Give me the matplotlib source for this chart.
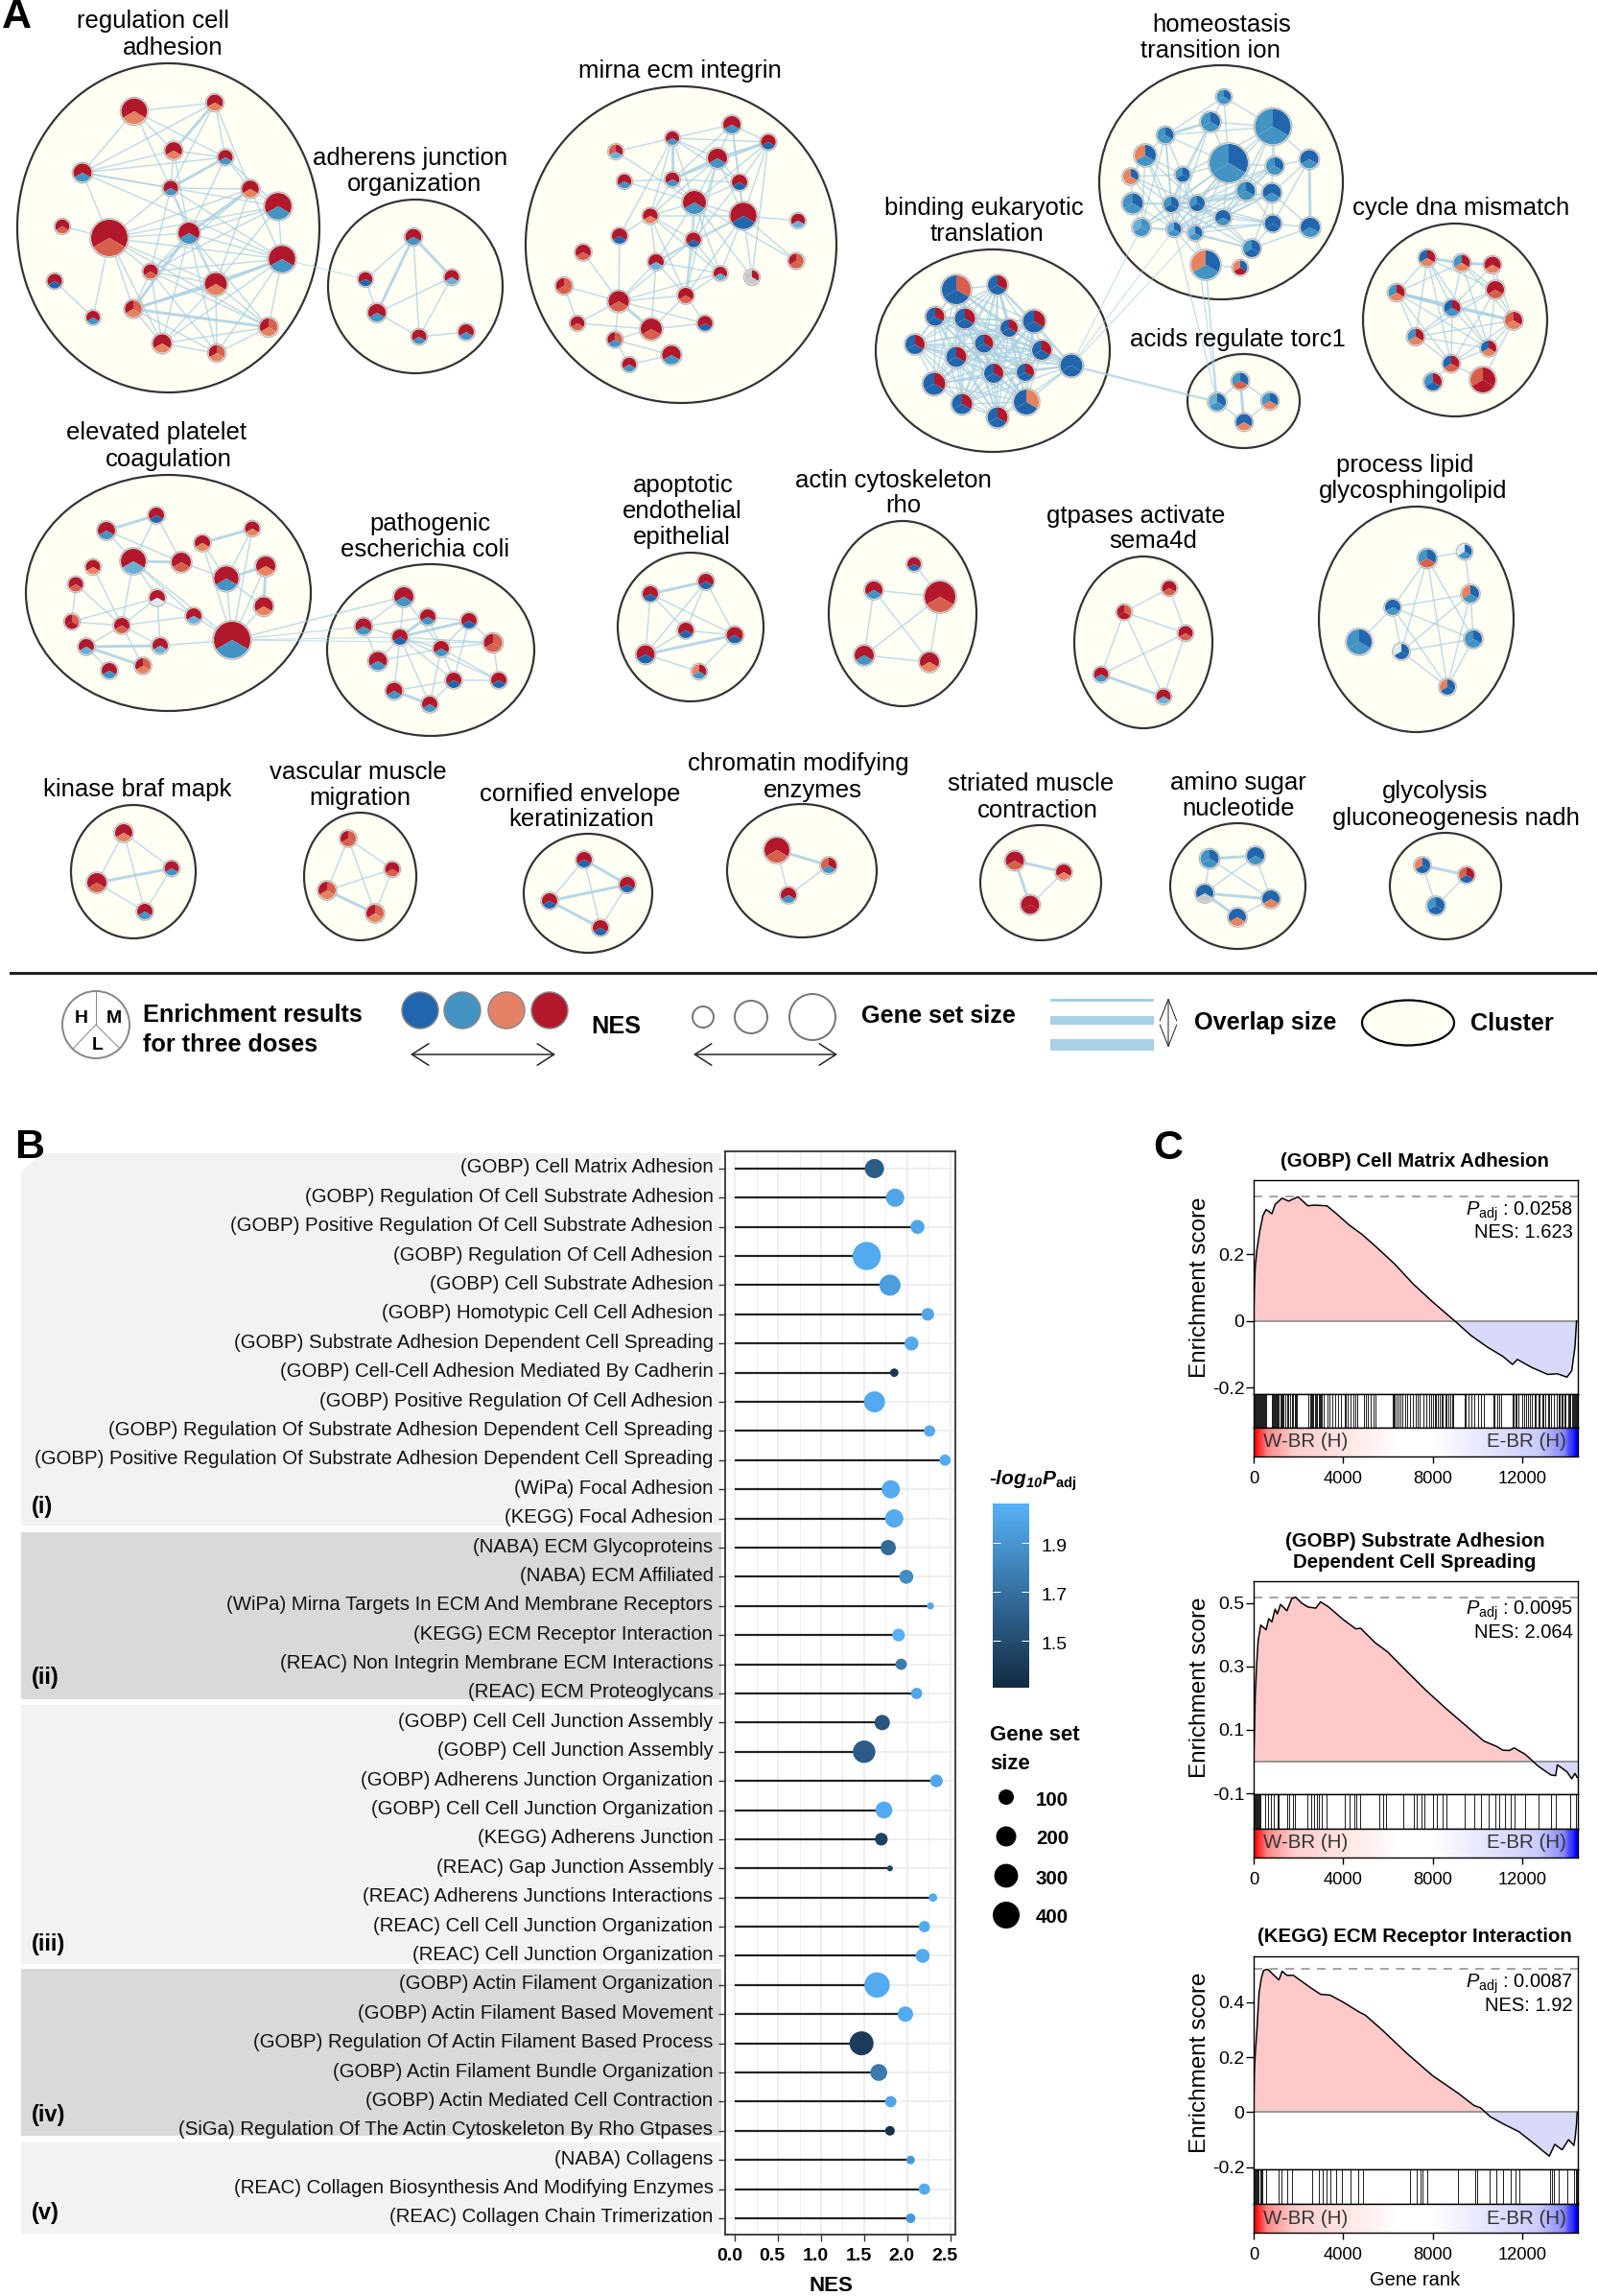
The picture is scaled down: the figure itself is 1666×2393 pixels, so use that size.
import numpy as np
import matplotlib
matplotlib.use('Agg')
import matplotlib.pyplot as plt
from matplotlib.patches import Ellipse, Circle, Wedge, Rectangle
from matplotlib.collections import LineCollection
from matplotlib.colors import LinearSegmentedColormap, Normalize
from matplotlib.transforms import ScaledTranslation
from itertools import combinations

plt.rcParams['font.family'] = ['Liberation Sans', 'DejaVu Sans']
plt.rcParams['mathtext.fontset'] = 'custom'
plt.rcParams['mathtext.rm'] = 'Liberation Sans'
plt.rcParams['mathtext.it'] = 'Liberation Sans:italic'
plt.rcParams['mathtext.bf'] = 'Liberation Sans:bold'
plt.rcParams['mathtext.bfit'] = 'Liberation Sans:italic:bold'

W, H = 1666, 2393
PX = 0.72  # points per pixel at dpi 100

# ---------- panel A: network clusters, node = (x, y, radius), colours = H M L ----------
pie_colors = {'R': '#B2182B', 'r': '#D6604D', 's': '#E5825F', 'b': '#4393C3', 'B': '#2166AC',
              'c': '#6BAED6', 'g': '#C8C8C8', 'w': '#DCE9F3'}

nodes_regulation = [(140,116,13.4),(224,107,8.4),(181,157,8.8),(235,164,7.6),(86,180,9.5),(178,196,7.6),
                    (261,197,8.8),(290,215,13.8),(65,236,7.3),(114,248,19),(197,243,11),(294,270,13.8),
                    (157,283,7.6),(57,293,7.6),(225,296,11.5),(139,322,8.8),(97,331,7),(280,341,9.2),
                    (169,358,9.6),(226,368,8.4)]
colors_regulation = 'RRs RRs RRs RRb RRb RRb RRs RRb RRr RRr RRb RRb RRr RRB RRs Rrs RRb Rrs RRs Rrs'.split()
edges_regulation = [(0,1),(0,2),(0,3),(0,5),(0,4),(1,3),(1,5),(1,4),(1,6),(2,3),(2,4),(2,5),(2,10),(3,4),(3,6),
                    (3,10),(3,7),(4,5),(4,9),(4,7),(4,11),(5,6),(5,9),(5,10),(5,11),(5,12),(5,14),(6,7),(6,9),
                    (6,11),(6,12),(6,14),(7,9),(7,10),(7,11),(7,12),(7,14),(8,9),(9,10),(9,11),(9,12),(9,14),
                    (9,15),(9,16),(9,17),(9,18),(10,11),(10,12),(10,14),(10,18),(10,19),(10,17),(11,12),(11,15),
                    (11,18),(11,19),(11,17),(12,14),(12,15),(12,18),(12,17),(12,19),(13,16),(14,18),(14,19),
                    (14,17),(15,18),(15,19),(17,18),(17,19),(18,19)]
thick_regulation = [(1,2),(3,5),(6,10),(10,15),(11,14),(14,15),(15,17)]

nodes_adherens = [(431,247,8.4),(381,291,7.3),(471,289,7.6),(393,326,9.2),(437,351,7.6),(486,346,8)]
colors_adherens = 'RRb RRB RRc RRb RRb RRb'.split()
edges_adherens = [(0,1),(0,4),(1,3),(2,3),(2,4),(3,4),(4,5)]
thick_adherens = [(0,3),(0,2)]

nodes_mirna = [(763,130,9),(701,144,7),(801,148,7.7),(642,158,7.3),(748,165,10),(651,189,7.3),(701,187,7.3),
               (771,190,8),(724,211,12),(775,225,13.7),(678,225,7.7),(832,230,7.3),(646,246,8),(723,250,7.7),
               (608,263,8),(830,272,7.7),(684,273,8),(751,285,7),(784,289,7.3),(588,298,8.3),(715,308,8),
               (645,314,10.7),(602,337,7.3),(735,337,7.7),(679,343,11),(641,354,7.7),(700,370,9.7),(656,380,7.3)]
colors_mirna = ('RRb RRb RRB rRc RRb RRb RRb RRB RRb RRB RRs RRc RRB RRB RRr Rrr RRc RRc gRg Rrr RRr RRr RRr '
                'RRB RRr Rrb RRb RRb').split()
edges_mirna = [(3,1),(0,1),(0,2),(1,2),(1,4),(1,7),(1,8),(1,10),(1,12),(2,6),(2,8),(2,7),(2,9),(0,4),(0,6),(0,7),
               (0,9),(4,8),(4,9),(4,7),(4,10),(4,13),(6,8),(6,5),(6,10),(6,7),(7,8),(7,9),(7,13),(8,5),(8,9),(8,10),
               (8,13),(8,16),(8,17),(8,20),(9,10),(9,11),(9,13),(9,15),(9,16),(9,17),(9,18),(9,20),(2,18),(8,15),
               (8,18),(13,16),(13,17),(13,20),(16,10),(10,20),(10,13),(10,17),(16,17),(16,20),(16,21),(17,20),
               (12,21),(12,10),(3,8),(14,21),(19,21),(19,22),(21,20),(21,22),(21,23),(21,25),(21,17),(22,24),
               (24,20),(24,23),(24,16),(24,25),(25,26),(26,27),(25,27),(20,23),(13,21),(4,20)]
thick_mirna = [(1,6),(2,4),(4,6),(21,24)]

nodes_homeostasis = [(1276,101,7.5),(1262,127,10),(1327,132,18.5),(1215,141,8.5),(1194,162,11),(1281,170,20),
                     (1365,166,9.5),(1329,173,9),(1233,182,7.5),(1179,184,8),(1299,199,9.5),(1326,201,9.5),
                     (1181,212,10.5),(1221,213,8),(1248,212,8),(1275,227,8),(1327,233,8.5),(1366,237,10),
                     (1190,237,9),(1224,239,7.5),(1246,243,7.5),(1305,259,9),(1257,276,15),(1293,279,7.5)]
colors_homeostasis = 'bBb bBb bBb bBb sBb bBb BBb bBb bBB sBs bBb BBb bBb bBB bBB BBb BBB BBb cbb cBb cBb bBB sBb sBR'.split()
edges_homeostasis = [(0,1),(0,2),(0,3),(0,5),(1,2),(1,5),(1,8),(1,13),(1,19),(2,5),(2,6),(2,7),(2,10),(2,11),(2,3),
                     (2,8),(2,14),(2,15),(3,4),(3,8),(3,13),(3,18),(3,19),(3,5),(4,8),(4,13),(4,14),(4,18),(4,19),
                     (4,9),(5,7),(5,8),(5,10),(5,11),(5,13),(5,14),(5,15),(5,18),(5,19),(5,20),(5,16),(6,7),(6,11),
                     (6,16),(7,10),(7,13),(7,14),(7,15),(7,19),(8,9),(8,13),(8,14),(8,19),(8,20),(9,12),(9,13),
                     (9,14),(9,19),(10,13),(10,14),(10,15),(10,19),(10,20),(11,13),(11,14),(11,16),(11,15),(11,19),
                     (11,20),(11,21),(11,17),(12,13),(12,14),(12,18),(12,19),(13,14),(13,15),(13,18),(13,19),(13,20),
                     (13,21),(13,16),(14,15),(14,18),(14,19),(14,20),(14,16),(14,21),(15,19),(15,20),(15,16),(15,21),
                     (16,17),(16,19),(16,20),(16,21),(17,21),(18,19),(18,20),(19,20),(19,21),(19,22),(20,21),(20,22),
                     (22,23)]
thick_homeostasis = [(1,3),(6,17)]

nodes_binding = [(997,302,15),(1040,297,10),(975,330,9.5),(1006,332,10.5),(1078,335,11.5),(1052,342,9),(954,359,10),
                 (1026,358,9.5),(1086,365,10),(997,372,10.5),(1117,381,11.5),(1036,389,10),(1069,388,9),(974,400,11.5),
                 (1003,421,10.5),(1070,419,13),(1040,435,10.5)]
colors_binding = 'BrB BRB BRB BRB BRB BRB BRB BRB BRB BRB BBB BRB BRB BRB BRB BsB BRB'.split()
edges_binding = list(combinations(range(17), 2))
thick_binding = []

nodes_acids = [(1293,397,8.5),(1269,419,9),(1324,418,8.5),(1297,440,8.5)]
colors_acids = 'bBr cBb bBs BBs'.split()
edges_acids = [(0,1),(0,2),(1,3),(2,3)]
thick_acids = [(0,3)]

nodes_cycle = [(1488,269,8.5),(1524,274,8.5),(1556,276,8.5),(1559,302,9),(1456,305,8.5),(1514,321,8.5),(1578,334,9),
               (1476,351,8.5),(1552,363,8),(1513,379,8.5),(1494,398,9),(1546,396,13)]
colors_cycle = 'BRs bRs RRs RRr bRs BRb rRs bRs BRs BRr bRB rRR'.split()
edges_cycle = [(0,3),(0,4),(0,5),(0,7),(0,8),(0,9),(1,3),(1,4),(1,5),(1,8),(1,6),(2,3),(2,5),(2,6),(3,5),(3,6),(3,7),
               (3,8),(3,9),(4,7),(4,8),(4,9),(5,6),(5,7),(5,8),(5,9),(6,7),(6,8),(6,9),(6,11),(7,8),(7,9),(8,9),
               (9,10),(9,11)]
thick_cycle = [(0,1),(1,2),(4,5),(4,6)]

nodes_platelet = [(163,537,8),(111,553,9),(263,551,7.5),(211,566,8),(139,585,13),(189,586,10),(97,591,7.5),(277,590,10),
                  (236,603,12.7),(79,609,7.5),(164,623,8),(275,632,9.5),(75,648,7.5),(202,642,8),(127,652,8),
                  (242,667,19),(90,674,8),(167,673,8),(149,694,8),(114,699,8)]
colors_platelet = 'RRB RRb RRs RRs RRc RRr RRs RRs RRb RRr RRw RRs RrR RRc RRr RRb RRc RRc Rrs RRb'.split()
edges_platelet = [(0,4),(0,5),(1,4),(1,5),(2,8),(2,15),(3,8),(3,15),(4,10),(4,13),(4,14),(4,15),(5,8),(6,14),(7,15),
                  (8,15),(8,11),(11,15),(9,12),(9,14),(10,13),(10,14),(10,17),(10,12),(12,14),(13,15),(14,16),(14,17),
                  (14,18),(15,17),(13,14),(16,19)]
thick_platelet = [(0,1),(2,3),(4,5),(7,8),(7,11),(16,17),(16,18)]

nodes_pathogenic = [(421,622,10),(379,653,8.5),(446,643,8),(489,647,8),(417,664,8),(514,670,9.5),(460,676,8),(394,689,9.5),
                    (473,709,8),(520,709,8),(411,720,8.5),(448,734,8)]
colors_pathogenic = 'RRb RRb RRb RRB RRB Rrr RRb RRb RRB RRB RRb RRb'.split()
edges_pathogenic = [(0,1),(0,4),(0,6),(1,2),(1,4),(1,7),(2,3),(2,6),(3,5),(3,6),(3,8),(4,5),(4,6),(4,7),(4,8),(4,9),(4,10),
                    (4,11),(5,6),(5,9),(6,8),(6,9),(6,11),(7,6),(8,9),(8,10),(8,11)]
thick_pathogenic = [(2,4),(3,4),(10,11)]

nodes_apoptotic = [(736,606,8),(678,619,8),(715,657,8),(766,662,8.5),(673,682,9.5),(729,700,7.5)]
colors_apoptotic = 'RRB RRB RRB RRB RRB sRb'.split()
edges_apoptotic = [(0,4),(0,2),(0,3),(1,4),(1,2),(1,3),(2,3),(2,4),(4,5),(3,5)]
thick_apoptotic = [(0,1),(3,4)]

nodes_actin = [(953,588,7),(911,615,9),(980,622,16),(901,683,10),(969,690,10)]
colors_actin = 'RRB RRb RRr RRb RRs'.split()
edges_actin = [(0,2),(1,3),(2,3),(2,4),(3,4),(1,2),(1,4)]
thick_actin = []

nodes_gtpases = [(1219,613,7.5),(1172,638,7.5),(1236,660,7.5),(1148,703,7.5),(1213,726,7.5)]
colors_gtpases = 'RRr RrR RRr RRb RRc'.split()
edges_gtpases = [(0,1),(0,2),(1,2),(1,3),(1,4),(2,3),(2,4)]
thick_gtpases = [(3,4)]

nodes_lipid = [(1488,582,9.5),(1527,575,7.5),(1533,619,9),(1452,633,8),(1536,666,9),(1417,669,13),(1461,679,8),(1509,716,8)]
colors_lipid = 'bBr wBb sBb BBb bBb bBb wBB sBB'.split()
edges_lipid = [(0,3),(0,6),(0,7),(0,4),(1,2),(2,3),(2,6),(2,7),(2,4),(3,5),(3,4),(3,7),(4,6),(6,7),(0,1),(3,6),(4,7)]
thick_lipid = []

nodes_kinase = [(129,868,9),(179,905,7.5),(101,920,10),(151,950,8)]
colors_kinase = 'RRs RRb RRr RRb'.split()
edges_kinase = [(0,1),(0,2),(0,3),(1,3),(2,3)]
thick_kinase = [(1,2)]

nodes_vascular = [(363,874,8),(409,906,7.5),(341,928,9),(391,952,9)]
colors_vascular = 'Rrr RRr Rrs Rrs'.split()
edges_vascular = [(0,1),(0,2),(0,3),(1,2),(1,3)]
thick_vascular = [(2,3)]

nodes_cornified = [(609,896,8),(654,922,8),(573,939,8),(626,967,8)]
colors_cornified = 'RRB RRB RRB RRB'.split()
edges_cornified = [(0,2),(0,3),(1,3)]
thick_cornified = [(0,1),(1,2),(2,3)]

nodes_chromatin = [(810,886,13),(864,902,8),(822,933,8)]
colors_chromatin = 'RRr rRb RRb'.split()
edges_chromatin = [(0,2),(1,2)]
thick_chromatin = [(0,1)]

nodes_striated = [(1058,897,9.5),(1109,909,8),(1074,943,9.5)]
colors_striated = 'RRr RRs RRR'.split()
edges_striated = [(1,2)]
thick_striated = [(0,1),(0,2)]

nodes_amino = [(1261,895,9.5),(1309,892,9),(1256,931,9),(1325,937,9),(1290,956,9)]
colors_amino = 'bBb BBb BBg BBs BBs'.split()
edges_amino = [(0,2),(0,3),(1,2),(1,3),(3,4)]
thick_amino = [(0,1),(2,3),(2,4)]

nodes_glyco = [(1483,902,8),(1529,912,8),(1497,944,9)]
colors_glyco = 'sBB rRB bBB'.split()
edges_glyco = [(0,2),(1,2)]
thick_glyco = [(0,1)]

# bounding boxes of the cluster outlines: left, right, top, bottom
clusters = [
    (nodes_regulation, colors_regulation, edges_regulation, thick_regulation, (18,333,66,409)),
    (nodes_adherens, colors_adherens, edges_adherens, thick_adherens, (342,524,208,389)),
    (nodes_mirna, colors_mirna, edges_mirna, thick_mirna, (548,872,90,420)),
    (nodes_homeostasis, colors_homeostasis, edges_homeostasis, thick_homeostasis, (1146,1400,68,312)),
    (nodes_binding, colors_binding, edges_binding, thick_binding, (913,1157,260,471)),
    (nodes_acids, colors_acids, edges_acids, thick_acids, (1238,1355,369,467)),
    (nodes_cycle, colors_cycle, edges_cycle, thick_cycle, (1421,1613,233,434)),
    (nodes_platelet, colors_platelet, edges_platelet, thick_platelet, (27,324,495,741)),
    (nodes_pathogenic, colors_pathogenic, edges_pathogenic, thick_pathogenic, (341,557,588,767)),
    (nodes_apoptotic, colors_apoptotic, edges_apoptotic, thick_apoptotic, (644,796,576,731)),
    (nodes_actin, colors_actin, edges_actin, thick_actin, (864,1018,543,736)),
    (nodes_gtpases, colors_gtpases, edges_gtpases, thick_gtpases, (1120,1264,580,759)),
    (nodes_lipid, colors_lipid, edges_lipid, thick_lipid, (1375,1578,528,763)),
    (nodes_kinase, colors_kinase, edges_kinase, thick_kinase, (74,204,839,978)),
    (nodes_vascular, colors_vascular, edges_vascular, thick_vascular, (317,434,847,980)),
    (nodes_cornified, colors_cornified, edges_cornified, thick_cornified, (546,680,869,993)),
    (nodes_chromatin, colors_chromatin, edges_chromatin, thick_chromatin, (758,914,838,977)),
    (nodes_striated, colors_striated, edges_striated, thick_striated, (1022,1148,860,980)),
    (nodes_amino, colors_amino, edges_amino, thick_amino, (1220,1361,858,989)),
    (nodes_glyco, colors_glyco, edges_glyco, thick_glyco, (1449,1565,868,979)),
]

# links between clusters
cross_edges = [
    (nodes_regulation[11], nodes_adherens[1], 1.0),
    (nodes_platelet[15], nodes_pathogenic[0], 1.6),
    (nodes_platelet[15], nodes_pathogenic[1], 1.2),
    (nodes_platelet[15], nodes_pathogenic[5], 1.0),
    (nodes_platelet[15], nodes_pathogenic[4], 1.0),
    (nodes_binding[10], nodes_acids[1], 2.4),
    (nodes_binding[10], nodes_homeostasis[18], 1.0),
    (nodes_binding[10], nodes_homeostasis[19], 1.0),
    (nodes_binding[10], nodes_homeostasis[20], 1.0),
    (nodes_homeostasis[22], nodes_acids[1], 1.6),
    (nodes_homeostasis[19], nodes_acids[1], 1.2),
    (nodes_homeostasis[20], nodes_acids[1], 1.2),
]

cluster_labels = [
    ('regulation cell',160,22),('adhesion',180,50),('adherens junction',428,165),('organization',432,192),
    ('mirna ecm integrin',709,74),('homeostasis',1274,26),('transition ion',1262,53),
    ('binding eukaryotic',1026,217),('translation',1029,244),('cycle dna mismatch',1523,217),
    ('acids regulate torc1',1290,354),('elevated platelet',163,451),('coagulation',176,479),
    ('pathogenic',448,546),('escherichia coli',443,573),('apoptotic',712,506),('endothelial',711,533),
    ('epithelial',711,560),('actin cytoskeleton',931,501),('rho',942,527),('gtpases activate',1184,538),
    ('sema4d',1202,564),('process lipid',1465,485),('glycosphingolipid',1473,512),('kinase braf mapk',143,823),
    ('vascular muscle',373,805),('migration',375,832),('cornified envelope',605,828),('keratinization',606,854),
    ('chromatin modifying',832,796),('enzymes',847,824),('striated muscle',1075,817),('contraction',1082,845),
    ('amino sugar',1291,816),('nucleotide',1291,843),('glycolysis',1496,825),('gluconeogenesis nadh',1518,853),
]

# ---------- panel B data ----------
terms = ['(GOBP) Cell Matrix Adhesion', '(GOBP) Regulation Of Cell Substrate Adhesion',
         '(GOBP) Positive Regulation Of Cell Substrate Adhesion', '(GOBP) Regulation Of Cell Adhesion',
         '(GOBP) Cell Substrate Adhesion', '(GOBP) Homotypic Cell Cell Adhesion',
         '(GOBP) Substrate Adhesion Dependent Cell Spreading', '(GOBP) Cell-Cell Adhesion Mediated By Cadherin',
         '(GOBP) Positive Regulation Of Cell Adhesion', '(GOBP) Regulation Of Substrate Adhesion Dependent Cell Spreading',
         '(GOBP) Positive Regulation Of Substrate Adhesion Dependent Cell Spreading', '(WiPa) Focal Adhesion',
         '(KEGG) Focal Adhesion', '(NABA) ECM Glycoproteins', '(NABA) ECM Affiliated',
         '(WiPa) Mirna Targets In ECM And Membrane Receptors', '(KEGG) ECM Receptor Interaction',
         '(REAC) Non Integrin Membrane ECM Interactions', '(REAC) ECM Proteoglycans',
         '(GOBP) Cell Cell Junction Assembly', '(GOBP) Cell Junction Assembly', '(GOBP) Adherens Junction Organization',
         '(GOBP) Cell Cell Junction Organization', '(KEGG) Adherens Junction', '(REAC) Gap Junction Assembly',
         '(REAC) Adherens Junctions Interactions', '(REAC) Cell Cell Junction Organization',
         '(REAC) Cell Junction Organization', '(GOBP) Actin Filament Organization',
         '(GOBP) Actin Filament Based Movement', '(GOBP) Regulation Of Actin Filament Based Process',
         '(GOBP) Actin Filament Bundle Organization', '(GOBP) Actin Mediated Cell Contraction',
         '(SiGa) Regulation Of The Actin Cytoskeleton By Rho Gtpases', '(NABA) Collagens',
         '(REAC) Collagen Biosynthesis And Modifying Enzymes', '(REAC) Collagen Chain Trimerization']
nes = [1.62,1.86,2.12,1.53,1.80,2.24,2.05,1.85,1.62,2.26,2.44,1.81,1.85,1.78,1.99,2.27,1.90,1.93,2.11,
       1.71,1.50,2.34,1.73,1.70,1.80,2.30,2.20,2.18,1.65,1.98,1.47,1.67,1.81,1.80,2.04,2.20,2.04]
gene_size = [178,156,78,448,225,59,78,16,225,42,42,156,156,100,78,8,59,42,42,
             100,261,59,128,59,3,16,42,78,348,100,306,128,42,25,16,42,25]
log_padj = [1.59,2.0,2.0,2.02,1.95,2.0,2.02,1.38,2.02,2.02,2.02,2.02,2.02,1.66,1.85,2.0,2.06,1.75,2.0,
            1.55,1.58,2.0,2.02,1.43,1.43,2.02,2.02,2.02,2.02,2.02,1.40,1.75,2.0,1.33,1.92,2.02,1.92]
size_legend = [100, 200, 300, 400]
nes_ticks = [0.0, 0.5, 1.0, 1.5, 2.0, 2.5]

# ---------- panel C data ----------
titles_c = ['(GOBP) Cell Matrix Adhesion', '(GOBP) Substrate Adhesion\nDependent Cell Spreading',
            '(KEGG) ECM Receptor Interaction']
padj_c = ['0.0258', '0.0095', '0.0087']
nes_c = ['1.623', '2.064', '1.92']

rank1 = [0,29,72,143,272,415,558,816,959,1274,1560,1989,2418,2704,3277,3706,4278,4850,5423,6282,7140,7998,9000,
         9715,10431,11146,11576,11791,12435,13150,13580,14009,14224,14367,14438]
es1 = [0,.096,.163,.212,.269,.317,.335,.322,.35,.369,.36,.373,.346,.348,.346,.322,.288,.26,.226,.173,.111,.058,0,
       -.043,-.077,-.106,-.13,-.115,-.139,-.16,-.158,-.168,-.149,-.077,0]
rug1 = [20,50,80,110,140,170,200,230,270,300,340,380,420,470,520,570,800,850,900,950,990,1030,1080,1130,1190,1250,1290,
        1340,1400,1480,1530,1640,1700,1760,1830,1880,1950,2460,2510,2560,2620,2680,2730,2780,2840,2900,2960,3010,3060,
        3110,3290,3400,3520,3630,3780,3900,4060,4130,4200,4330,4450,4540,4630,4920,5010,5090,5250,5370,5450,6200,6260,
        6320,6400,6480,6560,6660,6760,6860,6990,7140,7250,7340,7440,7590,7700,7860,7950,8020,8100,8170,8240,8320,8400,
        8470,8560,8640,8700,8780,8860,8920,9420,9500,9600,9720,9860,10020,10180,10300,10720,10780,10880,11000,11080,
        11580,11640,11700,11760,11820,12020,12100,12180,12270,12360,12450,12560,12630,12720,12800,12890,12970,13060,
        13150,13230,13300,13420,13560,13640,13700,13760,13830,13890,13960,14050,14110,14170,14230,14280,14330,14380,
        14420,14460]

rank2 = [0,29,72,129,200,315,558,672,816,959,1059,1202,1488,1703,1875,2132,2418,2776,2991,3349,3992,4564,4779,5423,5995,
         6853,7712,8570,9429,10288,10860,11146,11432,11647,12148,12720,13293,13507,13579,14009,14224,14367,14467]
es2 = [0,.078,.209,.299,.38,.43,.415,.45,.44,.48,.465,.495,.475,.513,.518,.5,.487,.483,.503,.487,.448,.418,.42,.375,.345,
       .284,.224,.169,.117,.065,.048,.036,.035,.043,.023,-.014,-.042,-.044,-.01,-.032,-.054,-.037,-.05]
rug2 = [10,30,50,70,90,110,140,170,200,240,280,320,530,630,770,915,1060,1130,1490,1590,1775,1845,2420,2560,2700,2820,2920,
        3060,3250,4060,4280,4490,4590,4740,5640,5780,5925,6710,7170,7310,7500,7640,8030,8210,8430,8640,9430,9860,10150,
        10500,10790,11000,11220,11505,11650,12150,12720,13290,13510,14150,14410]

rank3 = [0,29,72,143,243,343,443,629,1130,1273,1488,1774,2561,2991,3420,3992,4707,4994,5709,6853,7998,9143,9858,10145,
         10574,11146,11862,12577,13221,13464,13793,14080,14323,14381,14438,14467]
es3 = [0,.144,.214,.295,.435,.487,.516,.52,.481,.513,.498,.498,.452,.429,.426,.401,.365,.353,.302,.214,.133,.069,.024,
       .016,-.016,-.042,-.071,-.117,-.16,-.117,-.137,-.1,-.121,-.088,-.042,0]
rug3 = [15,40,70,100,140,180,230,290,340,390,560,1130,1245,1490,1730,2600,2920,3100,3250,3450,3710,3960,4350,4680,4880,
        7000,7310,7455,7570,7780,9140,9890,10000,10550,10830,11150,11480,11720,11890,13270,13320,13410,13650,14010,14320,
        14410,14450]

ranks_c = [rank1, rank2, rank3]
es_c = [es1, es2, es3]
rugs_c = [rug1, rug2, rug3]
peak_c = [0.374, 0.518, 0.52]
yticks_c = [[-0.2, 0, 0.2], [-0.1, 0.1, 0.3, 0.5], [-0.2, 0, 0.2, 0.4]]
ylabs_c = [['-0.2', '0', '0.2'], ['-0.1', '0.1', '0.3', '0.5'], ['-0.2', '0', '0.2', '0.4']]
ylims_c = [(-0.219, 0.423), (-0.1025, 0.568), (-0.208, 0.567)]
rank_ticks = [0, 4000, 8000, 12000]


def px_axes(x0, y0, x1, y1):
    return fig.add_axes([x0 / W, 1 - y1 / H, (x1 - x0) / W, (y1 - y0) / H])


def marker_area(size):
    return (2 * (2 + 0.6 * np.sqrt(size)) * PX) ** 2


fig = plt.figure(figsize=(W / 100, H / 100), dpi=100)
ax = fig.add_axes([0, 0, 1, 1], zorder=0)
ax.set_xlim(0, W)
ax.set_ylim(H, 0)
ax.axis('off')

# ---------- panel A ----------
for nodes, cols, edges, thick, box in clusters:
    ax.add_patch(Ellipse(((box[0] + box[1]) / 2, (box[2] + box[3]) / 2), box[1] - box[0], box[3] - box[2],
                         fc='#FFFFF4', ec='#333333', lw=2.2 * PX, zorder=1))
for nodes, cols, edges, thick, box in clusters:
    segs = [(nodes[a][:2], nodes[b][:2]) for a, b in edges]
    ax.add_collection(LineCollection(segs, colors='#A6CEE3', linewidths=1.5 * PX, alpha=0.7, zorder=2))
    segs = [(nodes[a][:2], nodes[b][:2]) for a, b in thick]
    ax.add_collection(LineCollection(segs, colors='#A6CEE3', linewidths=3 * PX, alpha=0.8, zorder=2))
for a, b, lw in cross_edges:
    ax.plot([a[0], b[0]], [a[1], b[1]], color='#A6CEE3', lw=lw * PX, alpha=0.7, zorder=2)
for nodes, cols, edges, thick, box in clusters:
    for (x, y, r), c in zip(nodes, cols):
        ax.add_patch(Circle((x, y), r + 1.2, fc='white', ec='#BBBBBB', lw=1.4 * PX, zorder=3))
        # y axis is flipped, so the wedge angles run clockwise on screen
        ax.add_patch(Wedge((x, y), r, 150, 270, fc=pie_colors[c[0]], ec='none', zorder=4))
        ax.add_patch(Wedge((x, y), r, 270, 390, fc=pie_colors[c[1]], ec='none', zorder=4))
        ax.add_patch(Wedge((x, y), r, 30, 150, fc=pie_colors[c[2]], ec='none', zorder=4))
for t, x, y in cluster_labels:
    ax.text(x, y, t, fontsize=18.5, ha='center', va='center', zorder=6)

ax.text(17, 18, 'A', fontsize=31, fontweight='bold', ha='center', va='center')
ax.text(31, 1196, 'B', fontsize=31, fontweight='bold', ha='center', va='center', zorder=6)
ax.text(1218, 1197, 'C', fontsize=31, fontweight='bold', ha='center', va='center')

# ---------- legend of panel A ----------
ax.plot([11, 1663], [1014, 1014], color='#222222', lw=3 * PX)
ax.add_patch(Circle((100, 1068), 35, fc='white', ec='#888888', lw=2 * PX))
ax.plot([100, 100], [1033, 1068], color='#888888', lw=1 * PX)
ax.plot([100, 76], [1068, 1093], color='#888888', lw=1 * PX)
ax.plot([100, 125], [1068, 1093], color='#888888', lw=1 * PX)
ax.text(85, 1062, 'H', fontsize=14, fontweight='bold', ha='center', va='center')
ax.text(119, 1062, 'M', fontsize=14, fontweight='bold', ha='center', va='center')
ax.text(102, 1089, 'L', fontsize=14, fontweight='bold', ha='center', va='center')
ax.text(149, 1058, 'Enrichment results', fontsize=18.2, fontweight='bold', va='center')
ax.text(149, 1089, 'for three doses', fontsize=18.2, fontweight='bold', va='center')
for x, c in zip([438, 482, 528, 573], ['#2166AC', '#4393C3', '#E58266', '#B2182B']):
    ax.add_patch(Circle((x, 1053), 19, fc=c, ec='#888888', lw=1.5 * PX))
ax.text(616, 1070, 'NES', fontsize=18.2, fontweight='bold', va='center')
for x, r in zip([733, 783, 847], [11, 17, 24]):
    ax.add_patch(Circle((x, 1060), r, fc='white', ec='#777777', lw=2 * PX))
ax.text(898, 1059, 'Gene set size', fontsize=18.2, fontweight='bold', va='center')
for xa, xb in [(428, 579), (723, 873)]:
    ax.annotate('', xy=(xb, 1099), xytext=(xa, 1099),
                arrowprops=dict(arrowstyle='<->,head_length=0.7,head_width=0.45', color='#222222', lw=1.5 * PX,
                                shrinkA=0, shrinkB=0, mutation_scale=18))
for y, h in zip([1042, 1063, 1089], [3, 9, 12]):
    ax.add_patch(Rectangle((1095, y - h / 2), 108, h, fc='#A8D0E6', ec='none'))
ax.annotate('', xy=(1218, 1092), xytext=(1218, 1040),
            arrowprops=dict(arrowstyle='<->,head_length=0.9,head_width=0.35', color='#222222', lw=1 * PX,
                            shrinkA=0, shrinkB=0, mutation_scale=18))
ax.text(1245, 1066, 'Overlap size', fontsize=18.2, fontweight='bold', va='center')
ax.add_patch(Ellipse((1468, 1066), 96, 47, fc='#FFFFF4', ec='black', lw=2.2 * PX))
ax.text(1533, 1067, 'Cluster', fontsize=18.2, fontweight='bold', va='center')

# ---------- panel B ----------
group_boxes = [(1202, 1590, '#F2F2F2', '(i)', 1570), (1597, 1771, '#D9D9D9', '(ii)', 1748),
               (1777, 2047, '#F2F2F2', '(iii)', 2027), (2052, 2226, '#D9D9D9', '(iv)', 2205),
               (2233, 2328, '#F2F2F2', '(v)', 2306)]
for y0, y1, c, lab, ylab in group_boxes:
    ax.add_patch(Rectangle((22, y0), 730, y1 - y0, fc=c, ec='none', zorder=0.5))
    ax.text(33, ylab, lab, fontsize=17, fontweight='bold', va='center', zorder=1)
ax.fill([21, 44, 21], [1201, 1201, 1221], color='white', zorder=0.6)

ax_b = px_axes(756, 1200, 996, 2329)
ax_b.set_zorder(1)
rows = np.arange(len(terms))
cmap_b = LinearSegmentedColormap.from_list('padj', ['#132B43', '#56B1F7'])
norm_b = Normalize(1.306, 2.06)
ax_b.set_xlim(-0.115, 2.56)
ax_b.set_ylim(36.56, -0.59)
ax_b.set_axisbelow(True)
ax_b.set_xticks(nes_ticks)
ax_b.set_xticks(np.array(nes_ticks[:-1]) + 0.25, minor=True)
ax_b.grid(True, which='major', color='#EBEBEB', lw=1.6 * PX)
ax_b.grid(True, which='minor', axis='x', color='#EFEFEF', lw=1 * PX)
ax_b.tick_params(axis='x', which='minor', length=0)
ax_b.hlines(rows, 0, nes, color='#222222', lw=2.2 * PX, zorder=2)
ax_b.scatter(nes, rows, s=marker_area(np.array(gene_size)), c=log_padj, cmap=cmap_b, norm=norm_b,
             edgecolors='none', zorder=3, clip_on=False)
ax_b.set_yticks(rows)
ax_b.set_yticklabels(terms, fontsize=14.65, color='#111111')
ax_b.set_xticklabels(['%.1f' % t for t in nes_ticks], fontsize=14, fontweight='bold')
ax_b.tick_params(axis='y', length=5, width=1, color='#333333', pad=4)
ax_b.tick_params(axis='x', length=5, width=1, color='#333333', pad=5)
for lab in ax_b.get_yticklabels():
    lab.set_transform(lab.get_transform() + ScaledTranslation(0, 3 / 100, fig.dpi_scale_trans))
for lab in ax_b.get_xticklabels():
    lab.set_transform(lab.get_transform() + ScaledTranslation(-6 / 100, 0, fig.dpi_scale_trans))
for s in ax_b.spines.values():
    s.set_color('#333333')
    s.set_linewidth(1.8 * PX)
ax.text(866, 2382, 'NES', fontsize=16, fontweight='bold', ha='center', va='center')

ax_cb = px_axes(1035, 1567, 1073, 1759)
grad = np.linspace(norm_b.vmin, norm_b.vmax, 200)[:, None]
ax_cb.imshow(grad, aspect='auto', origin='lower', cmap=cmap_b, norm=norm_b, extent=[0, 1, norm_b.vmin, norm_b.vmax])
cb_ticks = [1.5, 1.7, 1.9]
ax_cb.hlines(cb_ticks, 0, 0.2, color='white', lw=1 * PX)
ax_cb.hlines(cb_ticks, 0.8, 1, color='white', lw=1 * PX)
ax_cb.set_xticks([])
ax_cb.set_yticks(cb_ticks)
ax_cb.yaxis.tick_right()
ax_cb.set_yticklabels(['%.1f' % t for t in cb_ticks], fontsize=14)
ax_cb.tick_params(axis='y', length=0, pad=9)
for lab in ax_cb.get_yticklabels():
    lab.set_transform(lab.get_transform() + ScaledTranslation(0, -3 / 100, fig.dpi_scale_trans))
for s in ax_cb.spines.values():
    s.set_visible(False)
ax.text(1031, 1543, r'-$\mathbfit{log_{10}P}_{\mathbf{adj}}$', fontsize=15, fontweight='bold', va='center')

ax.text(1032, 1809, 'Gene set', fontsize=16, fontweight='bold', va='center')
ax.text(1032, 1838, 'size', fontsize=16, fontweight='bold', va='center')
ax.scatter([1049] * 4, [1873, 1914, 1955, 1996], s=marker_area(np.array(size_legend)), c='black', edgecolors='none')
for y, v in zip([1876, 1917, 1958, 1998], size_legend):
    ax.text(1080, y, str(v), fontsize=14.8, fontweight='bold', va='center')

# ---------- panel C ----------
gsea_cmap = LinearSegmentedColormap.from_list('gsea', [(0, '#FF0000'), (0.04, '#FF8888'), (0.12, '#FFCCCC'),
                                                        (0.45, '#FFFFFF'), (0.55, '#FFFFFF'), (0.88, '#CCCCFF'),
                                                        (0.96, '#8888FF'), (1, '#0000FF')])
main_boxes = [(1230, 1453), (1648, 1870), (2039, 2261)]
rug_boxes = [(1453, 1488), (1870, 1906), (2261, 2297)]
bar_boxes = [(1488, 1518), (1906, 1936), (2297, 2327)]
title_y = [1210, 1618, 2019]
label_y = [1342, 1759, 2150]
rank_max = 14497

for i in range(3):
    r = np.array(ranks_c[i])
    es = np.array(es_c[i])
    ax_m = px_axes(1307, main_boxes[i][0], 1645, main_boxes[i][1])
    ax_m.fill_between(r, 0, es, where=es >= 0, interpolate=True, color='#FFC9C9', lw=0)
    ax_m.fill_between(r, 0, es, where=es <= 0, interpolate=True, color='#D9D9FB', lw=0)
    ax_m.axhline(0, color='#999999', lw=2 * PX)
    ax_m.axhline(peak_c[i], color='#888888', lw=1.5 * PX, dashes=(6, 5))
    ax_m.plot(r, es, color='black', lw=1.5 * PX)
    ax_m.set_xlim(0, rank_max)
    ax_m.set_ylim(*ylims_c[i])
    ax_m.set_xticks([])
    ax_m.set_yticks(yticks_c[i])
    ax_m.set_yticklabels(ylabs_c[i], fontsize=14)
    ax_m.tick_params(axis='y', length=6, width=1, pad=1)
    ax_m.text(0.985, 0.855 if i == 0 else (0.86 if i == 1 else 0.87),
              r'$\mathit{P}_{\mathrm{adj}}$ : ' + padj_c[i], transform=ax_m.transAxes, fontsize=14.5, ha='right', va='center')
    ax_m.text(0.985, 0.755 if i == 0 else (0.76 if i == 1 else 0.77),
              'NES: ' + nes_c[i], transform=ax_m.transAxes, fontsize=14.5, ha='right', va='center')
    ax.text(1251, label_y[i], 'Enrichment score', fontsize=17.5, rotation=90, ha='center', va='center')
    ax.text(1475, title_y[i], titles_c[i], fontsize=14.7, fontweight='bold', ha='center', va='center', linespacing=1.2)

    ax_r = px_axes(1307, rug_boxes[i][0], 1645, rug_boxes[i][1])
    ax_r.vlines(rugs_c[i], 0, 1, color='#222222', lw=1 * PX)
    ax_r.set_xlim(0, rank_max)
    ax_r.set_ylim(0, 1)
    ax_r.set_xticks([])
    ax_r.set_yticks([])

    ax_g = px_axes(1307, bar_boxes[i][0], 1645, bar_boxes[i][1])
    ax_g.imshow(np.linspace(0, 1, 300)[None, :], aspect='auto', cmap=gsea_cmap, extent=[0, rank_max, 0, 1])
    ax_g.set_yticks([])
    ax_g.set_xticks(rank_ticks)
    ax_g.set_xticklabels([str(t) for t in rank_ticks], fontsize=13.2)
    ax_g.tick_params(axis='x', length=5, width=1, pad=6)
    ax_g.text(0.03, 0.5, 'W-BR (H)', transform=ax_g.transAxes, fontsize=14.8, color='#333333', va='center')
    ax_g.text(0.965, 0.5, 'E-BR (H)', transform=ax_g.transAxes, fontsize=14.8, color='#333333', va='center', ha='right')
    for a in (ax_m, ax_r, ax_g):
        for s in a.spines.values():
            s.set_linewidth(1.4 * PX)
ax.text(1475, 2377, 'Gene rank', fontsize=14.5, ha='center', va='center')

fig.savefig('out.png', dpi=100)
